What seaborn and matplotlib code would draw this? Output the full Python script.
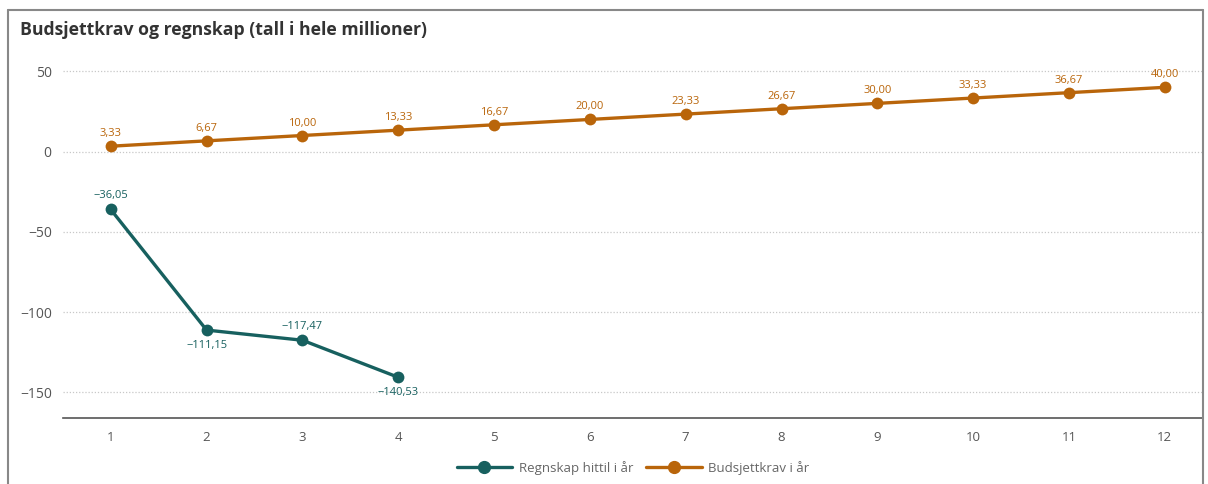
import numpy as np
import pandas as pd
import matplotlib.pyplot as plt
import seaborn as sns
from matplotlib.lines import Line2D

months = list(range(1, 13))
regnskap_months = [1, 2, 3, 4]
regnskap = [-36.05, -111.15, -117.47, -140.53]
budsjett = [3.33, 6.67, 10.00, 13.33, 16.67, 20.00, 23.33, 26.67, 30.00, 33.33, 36.67, 40.00]
series_names = ["Regnskap hittil i år", "Budsjettkrav i år"]
y_ticks = [50, 0, -50, -100, -150]

teal = "#17605f"
orange = "#b9650a"

df = pd.concat([
    pd.DataFrame({"Måned": regnskap_months, "Verdi": regnskap, "Serie": series_names[0]}),
    pd.DataFrame({"Måned": months, "Verdi": budsjett, "Serie": series_names[1]}),
])

sns.set_style("white")
plt.rcParams["font.family"] = ["Open Sans", "DejaVu Sans"]

fig = plt.figure(figsize=(12.08, 4.84), dpi=100)
ax = fig.add_axes([0.052, 0.136, 0.944, 0.74])

sns.lineplot(data=df, x="Måned", y="Verdi", hue="Serie",
             palette={series_names[0]: teal, series_names[1]: orange},
             marker="o", markersize=8.5, markeredgewidth=0, linewidth=2.4, ax=ax)


def fmt(v):
    s = f"{abs(v):.2f}".replace(".", ",")
    return ("\u2212" if v < 0 else "") + s


# data labels
for i, (m, v) in enumerate(zip(regnskap_months, regnskap)):
    above = i in (0, 2)
    ax.annotate(fmt(v), (m, v), xytext=(0, 6 if above else -7), textcoords="offset points",
                ha="center", va="bottom" if above else "top", fontsize=8, color=teal)
for m, v in zip(months, budsjett):
    ax.annotate(fmt(v), (m, v), xytext=(0, 5), textcoords="offset points",
                ha="center", va="bottom", fontsize=8, color=orange)

ax.set_xlim(0.5, 12.4)
ax.set_ylim(-166, 57)
ax.set_xticks(months)
ax.set_yticks(y_ticks)
ax.set_yticklabels([("\u2212" if t < 0 else "") + str(abs(t)) for t in y_ticks])
ax.tick_params(axis="x", length=5, width=1, color="#555555", labelcolor="#555555", labelsize=9.5, pad=4)
ax.tick_params(axis="y", length=0, labelcolor="#555555", labelsize=10, pad=8)
ax.yaxis.grid(True, linestyle=(0, (1, 1.5)), color="#c8c8c8", linewidth=0.9)
ax.set_xlabel("")
ax.set_ylabel("")
for s in ["top", "right", "left"]:
    ax.spines[s].set_visible(False)
ax.spines["bottom"].set_color("#555555")
ax.spines["bottom"].set_linewidth(1.2)

handles = [Line2D([], [], color=teal, marker="o", markersize=8.5, linewidth=2.4),
           Line2D([], [], color=orange, marker="o", markersize=8.5, linewidth=2.4)]
ax.legend(handles, series_names, loc="center", bbox_to_anchor=(0.5, -0.175 / 0.74 * 0.5 - 0.02),
          ncol=2, frameon=False, fontsize=9.5, labelcolor="#666666", handlelength=4.2,
          columnspacing=1.0, handletextpad=0.5)

fig.text(20 / 1208, 1 - 30 / 484, "Budsjettkrav og regnskap (tall i hele millioner)",
         fontsize=12.7, fontweight="bold", color="#333333", va="center", ha="left")

# frame around the panel (no bottom edge)
x0, x1, y1 = 8 / 1208, 1203 / 1208, 1 - 10 / 484
fig.add_artist(Line2D([x0, x0], [0, y1], color="#888888", linewidth=1.5, transform=fig.transFigure))
fig.add_artist(Line2D([x0, x1], [y1, y1], color="#888888", linewidth=1.5, transform=fig.transFigure))
fig.add_artist(Line2D([x1, x1], [0, y1], color="#888888", linewidth=1.5, transform=fig.transFigure))

fig.savefig("out.png", dpi=100, facecolor="white")
